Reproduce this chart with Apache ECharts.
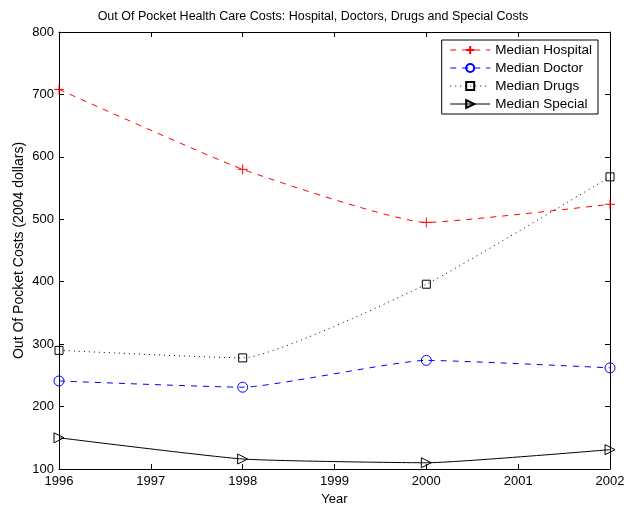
<!DOCTYPE html>
<html>
<head>
<meta charset="utf-8">
<script src="https://cdn.jsdelivr.net/npm/echarts@6/dist/echarts.min.js"></script>
<style>
html, body { margin: 0; padding: 0; background: #fff; }
#myChart { width: 626px; height: 506px; }
</style>
</head>
<body>
<div id="myChart"></div>
<script>
var years = [1996, 1998, 2000, 2002];
var hospital = [708, 580, 495, 524];
var doctor = [241, 231, 274, 262];
var drugs = [290, 278, 396, 568];
var special = [150, 116, 110, 131];

var font = 'Liberation Sans, Arial, sans-serif';

function pairs(vals) {
  var out = [];
  for (var i = 0; i < years.length; i++) out.push([years[i], vals[i]]);
  return out;
}

var myChart = echarts.init(document.getElementById('myChart'));
var option = {
  animation: false,
  backgroundColor: '#fff',
  textStyle: { fontFamily: font },
  title: {
    text: 'Out Of Pocket Health Care Costs: Hospital, Doctors, Drugs and Special Costs',
    left: 'center',
    top: 5,
    textStyle: { fontSize: 12.5, fontWeight: 'normal', color: '#000', fontFamily: font }
  },
  legend: {
    right: 28,
    top: 40,
    orient: 'vertical',
    itemGap: 4,
    itemWidth: 40,
    itemHeight: 10,
    padding: [3, 6, 3, 8],
    borderColor: '#000',
    borderWidth: 1,
    backgroundColor: '#fff',
    lineStyle: { width: 1 },
    textStyle: { fontSize: 13.5, color: '#000', fontFamily: font },
    data: ['Median Hospital', 'Median Doctor', 'Median Drugs', 'Median Special']
  },
  grid: { left: 59, right: 16, top: 32, bottom: 37, outerBoundsMode: 'none' },
  xAxis: [{
    type: 'value', min: 1996, max: 2002, interval: 1,
    name: 'Year', nameLocation: 'middle', nameGap: 24,
    nameTextStyle: { fontSize: 13, color: '#000' },
    axisLine: { lineStyle: { color: '#000' } },
    axisTick: { inside: true, length: 5, lineStyle: { color: '#000' } },
    axisLabel: { fontSize: 13, color: '#000', margin: 6, formatter: function (v) { return '' + v; } },
    splitLine: { show: false }
  }, {
    type: 'value', min: 1996, max: 2002, interval: 1, position: 'top',
    axisLine: { lineStyle: { color: '#000' } },
    axisTick: { inside: true, length: 5, lineStyle: { color: '#000' } },
    axisLabel: { show: false },
    splitLine: { show: false }
  }],
  yAxis: [{
    type: 'value', min: 100, max: 800, interval: 100,
    name: 'Out Of Pocket Costs (2004 dollars)', nameLocation: 'middle', nameGap: 33,
    nameMoveOverlap: false,
    nameTextStyle: { fontSize: 14, color: '#000' },
    axisLine: { show: true, lineStyle: { color: '#000' } },
    axisTick: { show: true, inside: true, length: 5, lineStyle: { color: '#000' } },
    axisLabel: { fontSize: 13, color: '#000', margin: 5 },
    splitLine: { show: false }
  }, {
    type: 'value', min: 100, max: 800, interval: 100, position: 'right',
    axisLine: { show: true, lineStyle: { color: '#000' } },
    axisTick: { show: true, inside: true, length: 5, lineStyle: { color: '#000' } },
    axisLabel: { show: false },
    splitLine: { show: false }
  }],
  series: [{
    name: 'Median Hospital', type: 'line', data: pairs(hospital), smooth: 0.15,
    symbol: 'path://M0,-5L0,5M-5,0L5,0', symbolSize: 10,
    lineStyle: { color: '#ff0000', width: 1, type: [6, 6] },
    itemStyle: { color: 'transparent', borderColor: '#ff0000', borderWidth: 1 }
  }, {
    name: 'Median Doctor', type: 'line', data: pairs(doctor), smooth: 0.15,
    symbol: 'circle', symbolSize: 10,
    lineStyle: { color: '#0000ff', width: 1, type: [6, 6] },
    itemStyle: { color: 'transparent', borderColor: '#0000ff', borderWidth: 1 }
  }, {
    name: 'Median Drugs', type: 'line', data: pairs(drugs), smooth: 0.15,
    symbol: 'rect', symbolSize: 8,
    lineStyle: { color: '#000', width: 1, type: [1, 4] },
    itemStyle: { color: 'transparent', borderColor: '#000', borderWidth: 1 }
  }, {
    name: 'Median Special', type: 'line', data: pairs(special), smooth: 0.15,
    symbol: 'triangle', symbolSize: 10, symbolRotate: -90,
    lineStyle: { color: '#000', width: 1 },
    itemStyle: { color: 'transparent', borderColor: '#000', borderWidth: 1 }
  }]
};
myChart.setOption(option, true);
</script>
</body>
</html>
